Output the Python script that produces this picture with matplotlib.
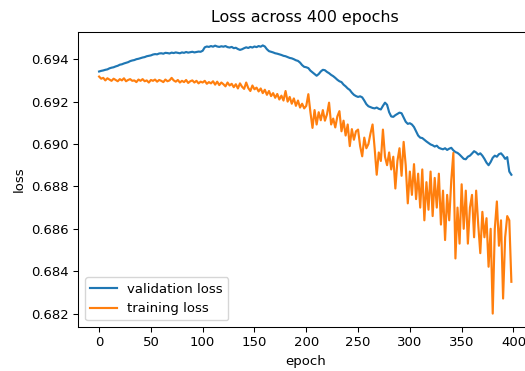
import numpy as np
import matplotlib.pyplot as plt

plt.rcParams['font.size'] = 9.5
plt.rcParams['axes.linewidth'] = 0.76
plt.rcParams['xtick.major.width'] = 0.76
plt.rcParams['ytick.major.width'] = 0.76
plt.rcParams['xtick.major.size'] = 3.3
plt.rcParams['ytick.major.size'] = 3.3

# one value every 2 epochs
epochs = np.arange(0, 400, 2)

val_loss = [
	0.69342, 0.69345, 0.69347, 0.69350, 0.69352, 0.69357, 0.69360, 0.69362, 0.69366, 0.69369,
	0.69374, 0.69376, 0.69380, 0.69383, 0.69386, 0.69391, 0.69394, 0.69396, 0.69400, 0.69402,
	0.69405, 0.69408, 0.69410, 0.69414, 0.69416, 0.69418, 0.69422, 0.69424, 0.69423, 0.69427,
	0.69428, 0.69426, 0.69430, 0.69429, 0.69427, 0.69431, 0.69429, 0.69432, 0.69430, 0.69428,
	0.69432, 0.69430, 0.69434, 0.69431, 0.69433, 0.69435, 0.69432, 0.69434, 0.69436, 0.69435,
	0.69440, 0.69456, 0.69460, 0.69458, 0.69462, 0.69459, 0.69464, 0.69460, 0.69458, 0.69461,
	0.69459, 0.69462, 0.69457, 0.69455, 0.69458, 0.69452, 0.69454, 0.69448, 0.69444, 0.69447,
	0.69452, 0.69456, 0.69453, 0.69458, 0.69455, 0.69460, 0.69457, 0.69462, 0.69459, 0.69465,
	0.69460, 0.69447, 0.69438, 0.69435, 0.69432, 0.69428, 0.69426, 0.69423, 0.69420, 0.69416,
	0.69414, 0.69410, 0.69406, 0.69404, 0.69400, 0.69395, 0.69392, 0.69384, 0.69372, 0.69364,
	0.69362, 0.69358, 0.69346, 0.69338, 0.69330, 0.69322, 0.69330, 0.69342, 0.69350, 0.69348,
	0.69340, 0.69334, 0.69326, 0.69320, 0.69312, 0.69303, 0.69296, 0.69292, 0.69280, 0.69272,
	0.69262, 0.69255, 0.69242, 0.69232, 0.69226, 0.69222, 0.69225, 0.69220, 0.69205, 0.69188,
	0.69178, 0.69174, 0.69170, 0.69168, 0.69172, 0.69166, 0.69163, 0.69180, 0.69195, 0.69185,
	0.69150, 0.69130, 0.69128, 0.69136, 0.69142, 0.69148, 0.69145, 0.69125, 0.69105, 0.69095,
	0.69098, 0.69092, 0.69080, 0.69060, 0.69040, 0.69030, 0.69028, 0.69020, 0.69012, 0.69005,
	0.68998, 0.68994, 0.68988, 0.68992, 0.68982, 0.68978, 0.68975, 0.68980, 0.68972, 0.68978,
	0.68982, 0.68970, 0.68962, 0.68958, 0.68950, 0.68940, 0.68930, 0.68928, 0.68940, 0.68945,
	0.68955, 0.68966, 0.68960, 0.68950, 0.68956, 0.68945, 0.68930, 0.68912, 0.68900, 0.68915,
	0.68935, 0.68945, 0.68940, 0.68952, 0.68956, 0.68945, 0.68930, 0.68938, 0.68870, 0.68855,
]

train_loss = [
	0.69318, 0.69308, 0.69312, 0.69300, 0.69310, 0.69304, 0.69298, 0.69308, 0.69302, 0.69296,
	0.69306, 0.69300, 0.69310, 0.69296, 0.69302, 0.69306, 0.69298, 0.69300, 0.69292, 0.69304,
	0.69298, 0.69306, 0.69296, 0.69300, 0.69290, 0.69302, 0.69298, 0.69304, 0.69294, 0.69302,
	0.69298, 0.69292, 0.69304, 0.69296, 0.69300, 0.69312, 0.69300, 0.69294, 0.69302, 0.69290,
	0.69298, 0.69292, 0.69302, 0.69288, 0.69296, 0.69300, 0.69290, 0.69298, 0.69286, 0.69294,
	0.69290, 0.69298, 0.69284, 0.69292, 0.69286, 0.69296, 0.69280, 0.69294, 0.69278, 0.69290,
	0.69282, 0.69272, 0.69290, 0.69276, 0.69284, 0.69268, 0.69282, 0.69262, 0.69286, 0.69270,
	0.69260, 0.69290, 0.69264, 0.69250, 0.69276, 0.69258, 0.69266, 0.69248, 0.69262, 0.69240,
	0.69256, 0.69232, 0.69250, 0.69226, 0.69240, 0.69218, 0.69236, 0.69210, 0.69228, 0.69205,
	0.69250, 0.69200, 0.69222, 0.69190, 0.69215, 0.69180, 0.69205, 0.69172, 0.69190, 0.69168,
	0.69180, 0.69235, 0.69150, 0.69076, 0.69160, 0.69092, 0.69150, 0.69112, 0.69160, 0.69110,
	0.69140, 0.69195, 0.69092, 0.69120, 0.69078, 0.69130, 0.69155, 0.69060, 0.69110, 0.69040,
	0.69092, 0.68990, 0.69070, 0.69020, 0.69060, 0.69068, 0.68990, 0.68942, 0.69030, 0.68980,
	0.69000, 0.69050, 0.69092, 0.68980, 0.68855, 0.68960, 0.68920, 0.69068, 0.68940, 0.68900,
	0.68960, 0.68880, 0.68940, 0.68790, 0.68920, 0.68980, 0.68850, 0.69010, 0.68900, 0.68720,
	0.68870, 0.68760, 0.68905, 0.68740, 0.68860, 0.68700, 0.68880, 0.68640, 0.68820, 0.68690,
	0.68870, 0.68660, 0.68840, 0.68700, 0.68860, 0.68620, 0.68780, 0.68547, 0.68760, 0.68640,
	0.68830, 0.68958, 0.68460, 0.68700, 0.68530, 0.68810, 0.68600, 0.68780, 0.68530, 0.68700,
	0.68760, 0.68560, 0.68780, 0.68620, 0.68485, 0.68680, 0.68560, 0.68650, 0.68421, 0.68600,
	0.68200, 0.68600, 0.68729, 0.68520, 0.68640, 0.68271, 0.68560, 0.68660, 0.68640, 0.68350,
]

fig = plt.figure(figsize=(5.25, 3.71), dpi=100)
# right spine falls just outside the cropped reference
ax = fig.add_axes([0.1495, 0.1186, 0.8638, 0.7951])

ax.plot(epochs, val_loss, color='#1f77b4', lw=1.55, label='validation loss')
ax.plot(epochs, train_loss, color='#ff7f0e', lw=1.55, label='training loss')

ax.set_xticks([0, 50, 100, 150, 200, 250, 300, 350, 400])
ax.set_yticks([0.682, 0.684, 0.686, 0.688, 0.690, 0.692, 0.694])
ax.set_xlabel('epoch')
ax.set_ylabel('loss')
ax.set_title('Loss across 400 epochs', fontsize=11.4, pad=7)
ax.legend(loc='lower left')

plt.savefig('out.png', dpi=100)
